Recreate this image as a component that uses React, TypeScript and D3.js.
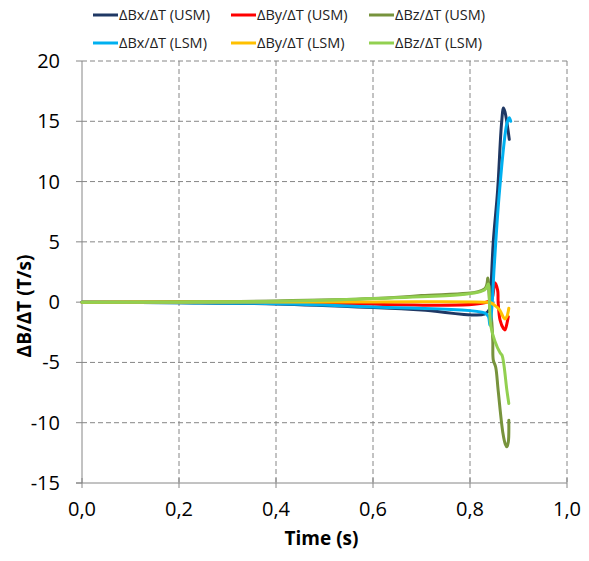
import * as d3 from "d3";

const width = 589;
const height = 561;
const margin = { top: 61, right: 22, bottom: 78, left: 82 };

const xTicks = [0, 0.2, 0.4, 0.6, 0.8, 1.0];
const yTicks = [-15, -10, -5, 0, 5, 10, 15, 20];

const seriesNames = [
  "ΔBx/ΔT (USM)",
  "ΔBy/ΔT (USM)",
  "ΔBz/ΔT (USM)",
  "ΔBx/ΔT (LSM)",
  "ΔBy/ΔT (LSM)",
  "ΔBz/ΔT (LSM)",
];
const seriesColors = ["#1F3864", "#FF0000", "#77933C", "#00B0F0", "#FFC000", "#92D050"];

// time (s) and dB/dT (T/s) for each series
const bxUsmT = [0, 0.2, 0.4, 0.6, 0.7, 0.83, 0.84, 0.843, 0.848, 0.857, 0.865, 0.869, 0.872, 0.881];
const bxUsmV = [0, -0.05, -0.15, -0.45, -0.65, -1.0, -0.6, 1.0, 5, 9.3, 14.8, 16.1, 15.8, 13.5];

const byUsmT = [0, 0.4, 0.83, 0.845, 0.851, 0.857, 0.858, 0.862, 0.869, 0.872, 0.876, 0.879];
const byUsmV = [0, 0, -0.05, 0.3, 1.6, 1.0, 0.0, -1.5, -2.2, -2.3, -1.8, -1.2];

const bzUsmT = [0, 0.2, 0.4, 0.6, 0.7, 0.83, 0.837, 0.839, 0.842, 0.845, 0.847, 0.848, 0.853, 0.858, 0.868, 0.873, 0.876, 0.879, 0.88];
const bzUsmV = [0, 0.03, 0.1, 0.3, 0.55, 1.1, 2.0, 0.8, -0.5, -1.7, -3.2, -4.8, -5.4, -7.3, -10.9, -11.8, -12.0, -11.6, -9.8];

const bxLsmT = [0, 0.2, 0.4, 0.6, 0.83, 0.838, 0.841, 0.845, 0.85, 0.861, 0.876, 0.881, 0.884];
const bxLsmV = [0, -0.05, -0.13, -0.4, -0.9, -1.2, -1.9, -0.5, 3, 9.3, 14.8, 15.3, 15.0];

const byLsmT = [0, 0.6, 0.83, 0.843, 0.855, 0.862, 0.868, 0.872, 0.876, 0.88];
const byLsmV = [0, 0.02, 0.0, -0.05, -0.4, -0.7, -1.2, -1.4, -1.2, -0.5];

const bzLsmT = [0, 0.2, 0.4, 0.6, 0.83, 0.838, 0.84, 0.843, 0.851, 0.862, 0.866, 0.876, 0.88];
const bzLsmV = [0, 0.02, 0.08, 0.3, 1.0, 1.5, 0.0, -2.0, -3.2, -4.2, -4.4, -7.3, -8.4];

const seriesT = [bxUsmT, byUsmT, bzUsmT, bxLsmT, byLsmT, bzLsmT];
const seriesV = [bxUsmV, byUsmV, bzUsmV, bxLsmV, byLsmV, bzLsmV];

const fmt = (v: number) => v.toFixed(1).replace(".", ",");

export default function App() {
  const x = d3.scaleLinear().domain([0, 1]).range([margin.left, width - margin.right]);
  const y = d3.scaleLinear().domain([-15, 20]).range([height - margin.bottom, margin.top]);

  const lineFree = d3
    .line<[number, number]>()
    .x((d) => x(d[0]))
    .y((d) => y(d[1]))
    .curve(d3.curveCatmullRom.alpha(0.5));

  const font = "'Open Sans', sans-serif";
  const legendCols = [93, 231, 369];
  const legendRows = [15, 43];
  const axisColor = "#868686";

  return (
    <svg width={width} height={height} style={{ position: "absolute", left: 0, top: 0 }}>
      <rect width={width} height={height} fill="#fff" />
      {/* grid */}
      {yTicks.filter((t) => t !== -15).map((t) => (
        <line key={"gy" + t} x1={x(0)} x2={x(1)} y1={y(t)} y2={y(t)} stroke={axisColor} strokeWidth={1} strokeDasharray="5,3" />
      ))}
      {xTicks.filter((t) => t !== 0).map((t) => (
        <line key={"gx" + t} x1={x(t)} x2={x(t)} y1={y(20)} y2={y(-15)} stroke={axisColor} strokeWidth={1} strokeDasharray="5,3" />
      ))}
      {/* axes */}
      <line x1={x(0)} x2={x(0)} y1={y(20)} y2={y(-15)} stroke={axisColor} strokeWidth={1} />
      <line x1={x(0) - 6} x2={x(1)} y1={y(-15)} y2={y(-15)} stroke={axisColor} strokeWidth={1} />
      {yTicks.map((t) => (
        <g key={"ty" + t}>
          <line x1={x(0) - 6} x2={x(0)} y1={y(t)} y2={y(t)} stroke={axisColor} />
          <text x={x(0) - 22} y={y(t)} dy="0.35em" textAnchor="end" fontSize={20} fontFamily={font} fill="#000">
            {t}
          </text>
        </g>
      ))}
      {xTicks.map((t) => (
        <g key={"tx" + t}>
          <line x1={x(t)} x2={x(t)} y1={y(-15) - 5} y2={y(-15) + 5} stroke={axisColor} />
          <text x={x(t)} y={y(-15) + 26} dy="0.35em" textAnchor="middle" fontSize={20} fontFamily={font} fill="#000">
            {fmt(t)}
          </text>
        </g>
      ))}
      <text x={(x(0) + x(1)) / 2 - 3} y={545} textAnchor="middle" fontSize={19} fontWeight="bold" fontFamily={font}>
        Time (s)
      </text>
      <text
        transform={`translate(31,306) rotate(-90)`}
        textAnchor="middle"
        fontSize={19}
        fontWeight="bold"
        fontFamily={font}
      >
        ΔB/ΔT (T/s)
      </text>
      {/* series */}
      {seriesT.map((ts, i) => {
        const pts = ts.map((t, j) => [t, seriesV[i][j]] as [number, number]);
        return (
          <path
            key={"s" + i}
            d={lineFree(pts) || ""}
            fill="none"
            stroke={seriesColors[i]}
            strokeWidth={3}
            strokeLinejoin="round"
            strokeLinecap="round"
          />
        );
      })}
      {/* legend */}
      {seriesNames.map((name, i) => {
        const lx = legendCols[i % 3];
        const ly = legendRows[Math.floor(i / 3)];
        return (
          <g key={"lg" + i}>
            <line x1={lx} x2={lx + 25} y1={ly} y2={ly} stroke={seriesColors[i]} strokeWidth={3} />
            <text x={lx + 26} y={ly} dy="0.35em" fontSize={14.5} fontFamily={font} fill="#222">
              {name}
            </text>
          </g>
        );
      })}
    </svg>
  );
}
